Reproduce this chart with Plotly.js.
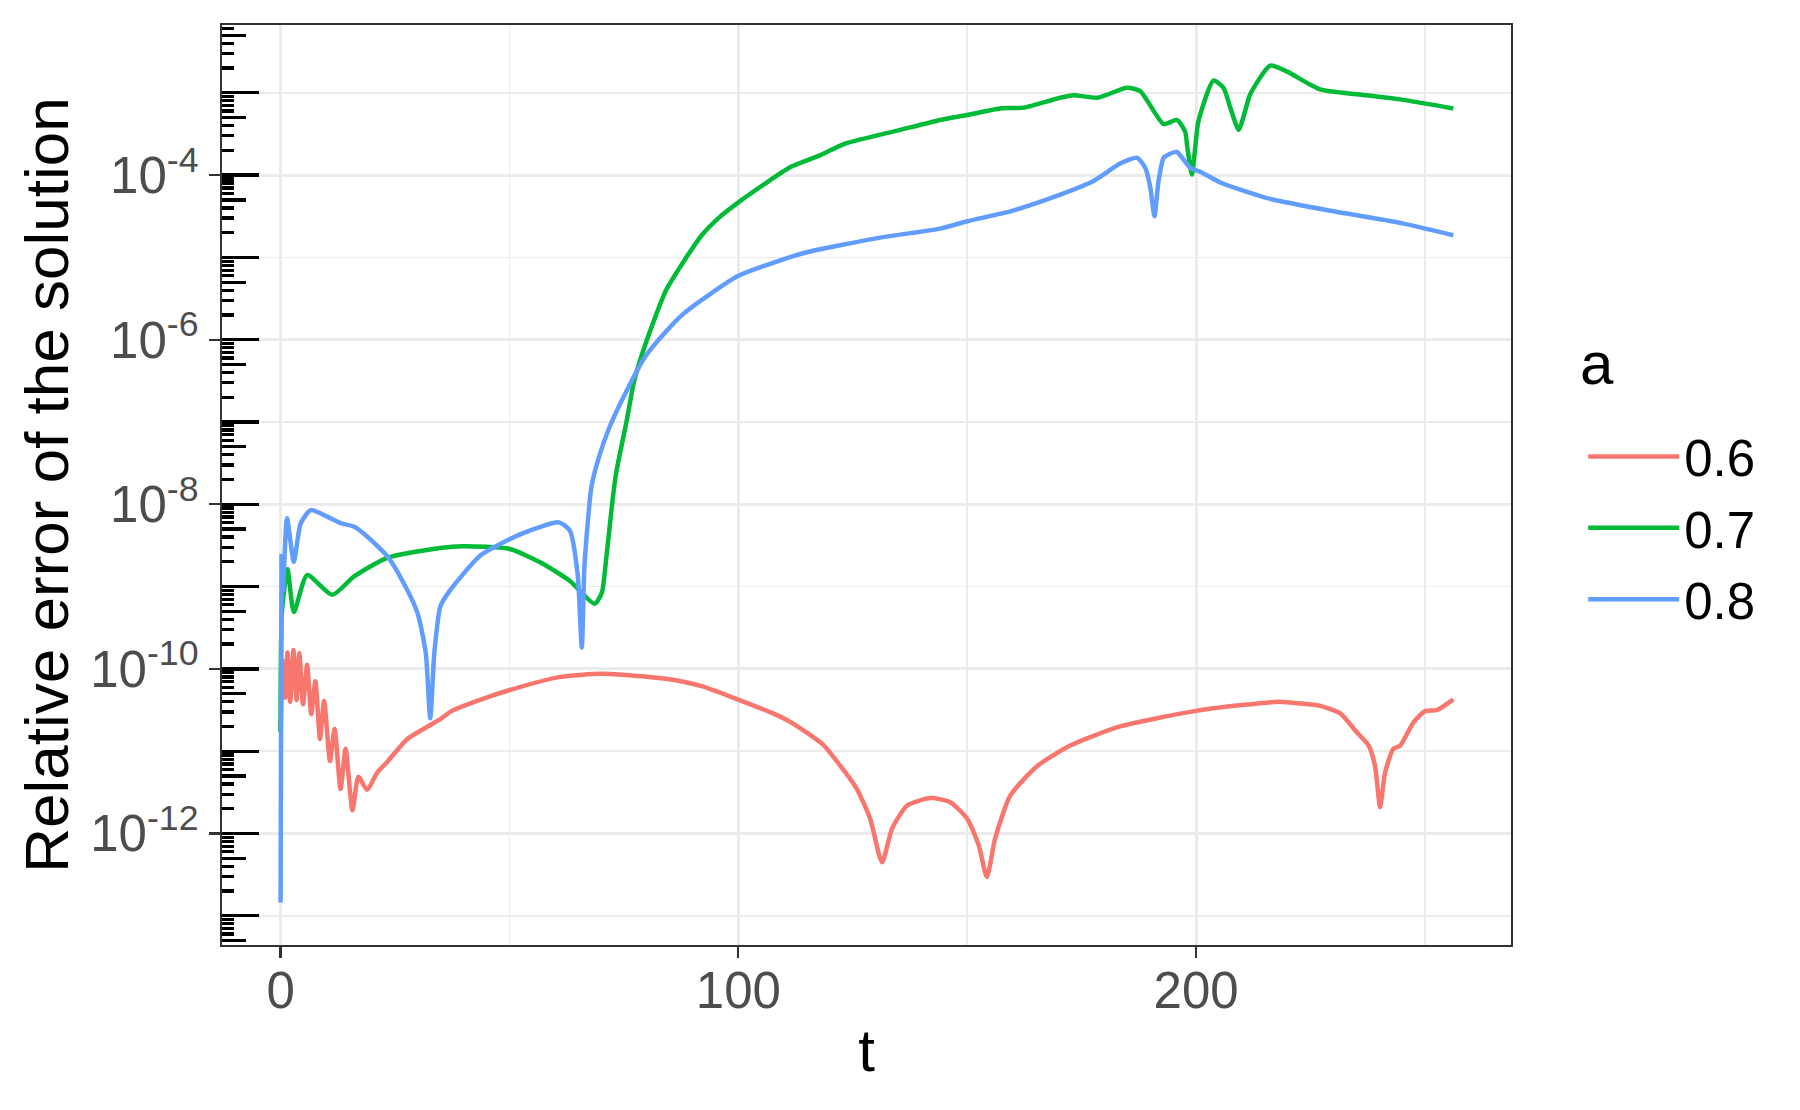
<!DOCTYPE html>
<html>
<head>
<meta charset="utf-8">
<script src="https://cdn.plot.ly/plotly-3.0.1.min.js"></script>
<style>
  html, body { margin: 0; padding: 0; background: #ffffff; }
  #chart { width: 1800px; height: 1110px; }
</style>
</head>
<body>
<div id="chart"></div>
<script>
// values (t, relative error)
const t06 = [0, 0.5, 1.0, 1.5, 2.1, 2.8, 3.5, 4.1, 4.9, 5.8, 6.7, 7.6, 8.6, 9.5, 10.8, 11.8, 13.1, 14.2, 15.7, 17.0,
  18.9, 21.1, 23.3, 27.7, 34.9, 37.4, 43.7, 49.9, 60.8, 70.2, 84.2, 92.0, 99.8, 107.6, 111.5, 118.5, 122.3, 125.9,
  128.8, 131.4, 133.6, 136.9, 142.0, 146.3, 150.0, 152.5, 154.3, 156.1, 159.4, 165.3, 172.5, 183.4, 200.0, 210.0,
  218.0, 222.8, 227.1, 231.5, 235.1, 237.7, 239.1, 240.2, 241.3, 243.1, 244.6, 247.5, 250.1, 252.6, 256.2];
const err06 = [1.70e-11, 1.26e-10, 4.47e-11, 1.58e-10, 3.98e-11, 1.70e-10, 4.17e-11, 1.55e-10, 3.72e-11, 1.12e-10,
  2.82e-11, 7.08e-11, 1.41e-11, 4.07e-11, 7.59e-12, 1.86e-11, 3.47e-12, 1.07e-11, 1.91e-12, 4.90e-12,
  3.39e-12, 5.50e-12, 7.41e-12, 1.41e-11, 2.45e-11, 3.09e-11, 4.23e-11, 5.50e-11, 7.94e-11, 8.71e-11, 7.59e-11,
  6.17e-11, 4.27e-11, 2.88e-11, 2.24e-11, 1.20e-11, 6.61e-12, 3.47e-12,
  1.51e-12, 4.47e-13, 1.15e-12, 2.19e-12, 2.69e-12, 2.40e-12, 1.51e-12, 7.24e-13, 2.95e-13, 8.71e-13, 2.88e-12,
  6.61e-12, 1.17e-11, 2.00e-11, 3.09e-11, 3.63e-11,
  3.98e-11, 3.80e-11, 3.55e-11, 2.88e-11, 1.70e-11, 1.17e-11, 6.61e-12, 2.09e-12, 5.50e-12, 1.07e-11, 1.17e-11,
  2.24e-11, 3.09e-11, 3.16e-11, 4.27e-11];

const t07 = [0, 0.3, 1.5, 2.9, 5.8, 11.3, 16.0, 23.3, 34.9, 39.8, 49.9, 56.9, 63.2, 68.6, 70.2, 71.0, 72.5, 73.3, 75.7,
  77.2, 79.6, 84.2, 88.1, 92.0, 95.9, 99.8, 105.7, 111.5, 117.8, 123.2, 135.4, 144.1, 150.0, 157.2, 162.3, 170.3,
  173.3, 178.4, 184.9, 187.8, 192.9, 195.8, 197.6, 198.1, 199.1, 199.8, 200.5, 203.8, 206.0, 207.5, 209.3, 210.7,
  211.8, 216.2, 219.8, 227.1, 237.3, 244.6, 256.2];
const err07 = [1.70e-11, 5.01e-10, 1.62e-9, 4.90e-10, 1.38e-9, 7.94e-10, 1.32e-9, 2.24e-9, 2.95e-9, 3.09e-9, 2.88e-9,
  1.95e-9, 1.17e-9, 6.17e-10, 8.51e-10, 1.86e-9, 1.10e-8, 2.40e-8, 1.10e-7,
  3.09e-7, 8.51e-7, 3.98e-6, 9.0e-6, 1.86e-5, 3.09e-5, 4.57e-5, 7.78e-5, 1.26e-4, 1.74e-4, 2.40e-4, 3.55e-4, 4.68e-4,
  5.37e-4, 6.46e-4, 6.61e-4, 8.71e-4,
  9.33e-4, 8.71e-4, 1.15e-3, 1.05e-3, 4.17e-4, 4.68e-4, 3.39e-4, 2.14e-4, 1.02e-4, 2.14e-4, 4.47e-4, 1.41e-3,
  1.15e-3, 6.53e-4, 3.55e-4, 5.96e-4,
  9.55e-4, 2.14e-3, 1.82e-3, 1.10e-3, 9.33e-4, 8.32e-4, 6.46e-4];

const t08 = [0, 0.2, 0.5, 1.4, 2.9, 4.4, 6.6, 10.2, 13.1, 16.0, 18.9, 23.3, 26.9, 29.9, 31.7, 32.7, 33.6, 34.9, 36.7,
  43.7, 53.0, 60.8, 63.2, 64.9, 65.8, 66.4, 67.9, 69.4, 71.8, 75.6, 79.6, 84.2, 88.1, 93.6, 99.8, 107.6, 115.4,
  131.0, 144.1, 150.0, 159.4, 168.2, 177.6, 183.4, 187.1, 188.9, 190.0, 190.9, 191.8, 192.9, 194.0, 195.8, 198.7,
  200.9, 205.3, 215.5, 230.0, 244.6, 256.2];
const err08 = [1.45e-13, 2.34e-9, 8.91e-10, 6.76e-9, 2.00e-9, 5.89e-9, 8.51e-9, 7.08e-9, 5.89e-9, 5.37e-9, 4.07e-9,
  2.34e-9, 1.10e-9, 4.79e-10, 1.58e-10, 2.51e-11, 1.58e-10, 5.75e-10, 8.51e-10,
  2.40e-9, 4.47e-9, 6.03e-9, 4.79e-9, 1.41e-9, 1.82e-10, 1.86e-9, 1.62e-8, 3.51e-8, 8.51e-8, 2.40e-7, 6.17e-7,
  1.26e-6, 2.09e-6, 3.51e-6, 5.89e-6, 8.61e-6, 1.17e-5,
  1.74e-5, 2.24e-5, 2.75e-5, 3.63e-5, 5.25e-5, 8.51e-5, 1.38e-4, 1.62e-4, 1.23e-4, 7.08e-5, 3.16e-5, 8.51e-5,
  1.62e-4, 1.78e-4, 1.91e-4, 1.23e-4,
  1.10e-4, 8.13e-5, 5.25e-5, 3.63e-5, 2.63e-5, 1.86e-5];

const seriesNames = ["0.6", "0.7", "0.8"];
const seriesColors = ["#F8766D", "#00BA38", "#619CFF"];
const legendTitle = "a";

const xTicks = [0, 100, 200];
const xMinor = [50, 150, 250];
const yTicks = [1e-12, 1e-10, 1e-8, 1e-6, 1e-4];
const yTickText = ["10<sup>-12</sup>", "10<sup>-10</sup>", "10<sup>-8</sup>", "10<sup>-6</sup>", "10<sup>-4</sup>"];
const yMinor = [1e-13, 1e-11, 1e-9, 1e-7, 1e-5, 1e-3];

// positions for the log ticks drawn inside the left edge of the panel
const tickDecade = [], tickFive = [], tickOther = [];
for (let k = -14; k <= -2; k++) {
  tickDecade.push(Math.pow(10, k));
  tickFive.push(5 * Math.pow(10, k));
  [2, 3, 4, 6, 7, 8, 9].forEach(m => tickOther.push(m * Math.pow(10, k)));
}

const yRange = [-13.355, -2.176];
const xs = [t06, t07, t08];
const ys = [err06, err07, err08];

const traces = seriesNames.map((name, i) => ({
  x: xs[i],
  y: ys[i],
  name: name,
  legendgroup: name,
  type: "scatter",
  mode: "lines",
  line: { color: seriesColors[i], width: 4.5, shape: "spline", smoothing: 0.6 },
  hoverinfo: "x+y+name"
}));

// anchor traces for the overlay tick axes (draw nothing)
traces.push({ x: [t08[0]], y: [err08[0]], yaxis: "y2", mode: "lines", showlegend: false, hoverinfo: "skip", line: { width: 0 } });
traces.push({ x: [t08[0]], y: [err08[0]], yaxis: "y3", mode: "lines", showlegend: false, hoverinfo: "skip", line: { width: 0 } });

const tickAxis = (vals, len) => ({
  type: "log",
  overlaying: "y",
  anchor: "x",
  side: "left",
  range: yRange,
  tickmode: "array",
  tickvals: vals,
  ticks: "inside",
  ticklen: len,
  tickwidth: 3.3,
  tickcolor: "#000000",
  showticklabels: false,
  showgrid: false,
  zeroline: false,
  showline: false
});

const layout = {
  width: 1800,
  height: 1110,
  margin: { l: 222, r: 289, t: 25, b: 165 },
  paper_bgcolor: "#ffffff",
  plot_bgcolor: "#ffffff",
  font: { family: "Liberation Sans, Arial, sans-serif", color: "#000000" },
  showlegend: true,
  xaxis: {
    range: [-12.8, 268.8],
    tickmode: "array",
    tickvals: xTicks,
    ticks: "outside",
    ticklen: 11,
    tickwidth: 2.3,
    tickcolor: "#333333",
    tickfont: { size: 51, color: "#4D4D4D" },
    ticklabelstandoff: -12,
    showgrid: true,
    gridcolor: "#EBEBEB",
    gridwidth: 3,
    minor: { tickvals: xMinor, showgrid: true, gridcolor: "#EBEBEB", gridwidth: 1.6, ticks: "" },
    zeroline: false,
    showline: true,
    mirror: true,
    linecolor: "#333333",
    linewidth: 2.3,
    title: { text: "t", font: { size: 60, color: "#000000" }, standoff: 12 }
  },
  yaxis: {
    type: "log",
    range: yRange,
    tickmode: "array",
    tickvals: yTicks,
    ticktext: yTickText,
    ticks: "outside",
    ticklen: 11,
    tickwidth: 2.3,
    tickcolor: "#333333",
    tickfont: { size: 51, color: "#4D4D4D" },
    showgrid: true,
    gridcolor: "#EBEBEB",
    gridwidth: 3,
    minor: { tickvals: yMinor, showgrid: true, gridcolor: "#EBEBEB", gridwidth: 1.6, ticks: "" },
    zeroline: false,
    showline: true,
    mirror: true,
    linecolor: "#333333",
    linewidth: 2.3,
    title: { text: "Relative error of the solution", font: { size: 62, color: "#000000" }, standoff: 2 }
  },
  yaxis2: Object.assign(tickAxis(tickDecade, 37), {
    minor: { tickvals: tickFive, ticks: "inside", ticklen: 24, tickwidth: 3.3, tickcolor: "#000000", showgrid: false }
  }),
  yaxis3: tickAxis(tickOther, 12),
  legend: {
    x: 1.056,
    y: 0.574,
    xanchor: "left",
    yanchor: "top",
    bgcolor: "rgba(0,0,0,0)",
    font: { size: 51, color: "#000000" },
    itemwidth: 91,
    tracegroupgap: 2
  },
  annotations: [{
    text: legendTitle,
    xref: "paper",
    yref: "paper",
    x: 1.0516,
    y: 0.6325,
    xanchor: "left",
    yanchor: "middle",
    showarrow: false,
    font: { size: 60, color: "#000000" }
  }]
};

Plotly.newPlot("chart", traces, layout, { staticPlot: true });
</script>
</body>
</html>
